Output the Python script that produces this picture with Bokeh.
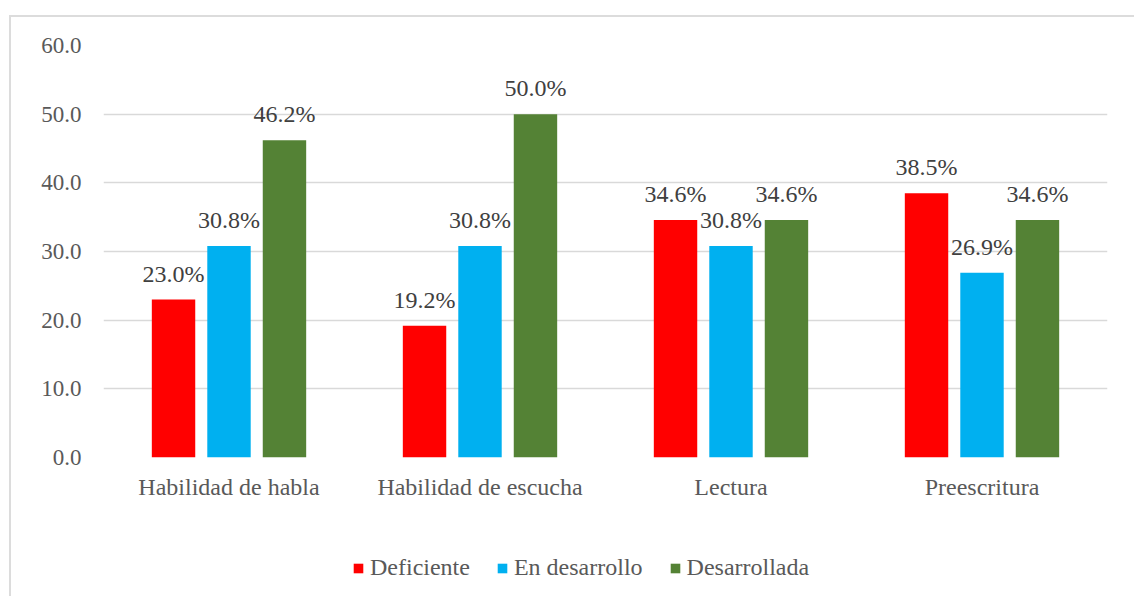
from bokeh.plotting import figure
from bokeh.layouts import column
from bokeh.models import (ColumnDataSource, FactorRange, FixedTicker, NumeralTickFormatter,
                          Legend, LegendItem, Range1d)
from bokeh.transform import dodge
from bokeh.core.properties import value
from bokeh.embed import file_html
from bokeh.resources import INLINE

categories = ["Habilidad de habla", "Habilidad de escucha", "Lectura", "Preescritura"]
series_names = ["Deficiente", "En desarrollo", "Desarrollada"]
deficiente = [23.0, 19.2, 34.6, 38.5]
en_desarrollo = [30.8, 30.8, 30.8, 26.9]
desarrollada = [46.2, 50.0, 34.6, 34.6]
y_ticks = [0, 10, 20, 30, 40, 50, 60]

colors = ["#FF0000", "#00B0F0", "#548235"]
offsets = [-0.221, 0.0, 0.221]
FONT = "Liberation Serif"

p = figure(x_range=FactorRange(*categories, range_padding=0), y_range=Range1d(0, 60),
           width=1134, height=540, output_backend="svg", toolbar_location=None,
           min_border_left=103, min_border_right=27, min_border_top=45, min_border_bottom=83)
p.outline_line_color = None
p.background_fill_color = "white"
p.border_fill_alpha = 0

p.xgrid.grid_line_color = None
p.ygrid.grid_line_color = "#d9d9d9"
p.ygrid.grid_line_width = 1.3
p.yaxis.ticker = FixedTicker(ticks=y_ticks)
p.yaxis.formatter = NumeralTickFormatter(format="0.0")
for ax in (p.xaxis, p.yaxis):
    ax.axis_line_color = None
    ax.major_tick_line_color = None
    ax.minor_tick_line_color = None
    ax.major_tick_out = 0
    ax.major_tick_in = 0
    ax.major_label_text_font = FONT
    ax.major_label_text_color = "#595959"
p.yaxis.major_label_text_font_size = "23px"
p.xaxis.major_label_text_font_size = "24px"
p.yaxis.major_label_standoff = 22
p.xaxis.major_label_standoff = 16

source = ColumnDataSource(dict(
    cat=categories,
    s0=deficiente, s1=en_desarrollo, s2=desarrollada,
    l0=[f"{v:.1f}%" for v in deficiente],
    l1=[f"{v:.1f}%" for v in en_desarrollo],
    l2=[f"{v:.1f}%" for v in desarrollada],
))

for i in range(3):
    p.vbar(x=dodge("cat", offsets[i], range=p.x_range), top=f"s{i}", width=0.173,
           source=source, color=colors[i], line_color=None)
    p.text(x=dodge("cat", offsets[i], range=p.x_range), y=f"s{i}", text=f"l{i}",
           source=source, text_align="center", text_baseline="middle", y_offset=-26,
           text_font=value(FONT), text_font_size="24px", text_color="#404040")

# legend strip below the chart (hidden renderers, used only for the legend swatches)
pl = figure(width=1134, height=56, output_backend="svg", toolbar_location=None,
            x_range=FactorRange(*categories, range_padding=0), y_range=Range1d(0, 60),
            min_border=0, min_border_left=0, min_border_right=0,
            min_border_top=0, min_border_bottom=0)
pl.axis.visible = False
pl.grid.visible = False
pl.outline_line_color = None
pl.background_fill_alpha = 0
pl.border_fill_alpha = 0
items = []
for i, name in enumerate(series_names):
    r = pl.vbar(x=dodge("cat", offsets[i], range=pl.x_range), top=f"s{i}", width=0.173,
                source=source, color=colors[i], line_color=None, visible=False)
    items.append(LegendItem(label=name, renderers=[r]))
legend = Legend(items=items, orientation="horizontal", location=(249, 15),
                glyph_width=12, glyph_height=12, label_standoff=6, spacing=26,
                padding=0, margin=0, border_line_color=None, background_fill_alpha=0,
                inactive_fill_alpha=0,
                label_text_font=FONT, label_text_font_size="24px", label_text_color="#595959",
                label_height=20)
pl.add_layout(legend)

layout = column(p, pl, spacing=0)
layout.styles = {
    "background-color": "white",
    "background-image": "linear-gradient(#dcdcdc,#dcdcdc), linear-gradient(#dcdcdc,#dcdcdc)",
    "background-size": "100% 2px, 2px 100%",
    "background-position": "9px 15px, 9px 15px",
    "background-repeat": "no-repeat",
}

open("out.html", "w").write(file_html(layout, INLINE))
